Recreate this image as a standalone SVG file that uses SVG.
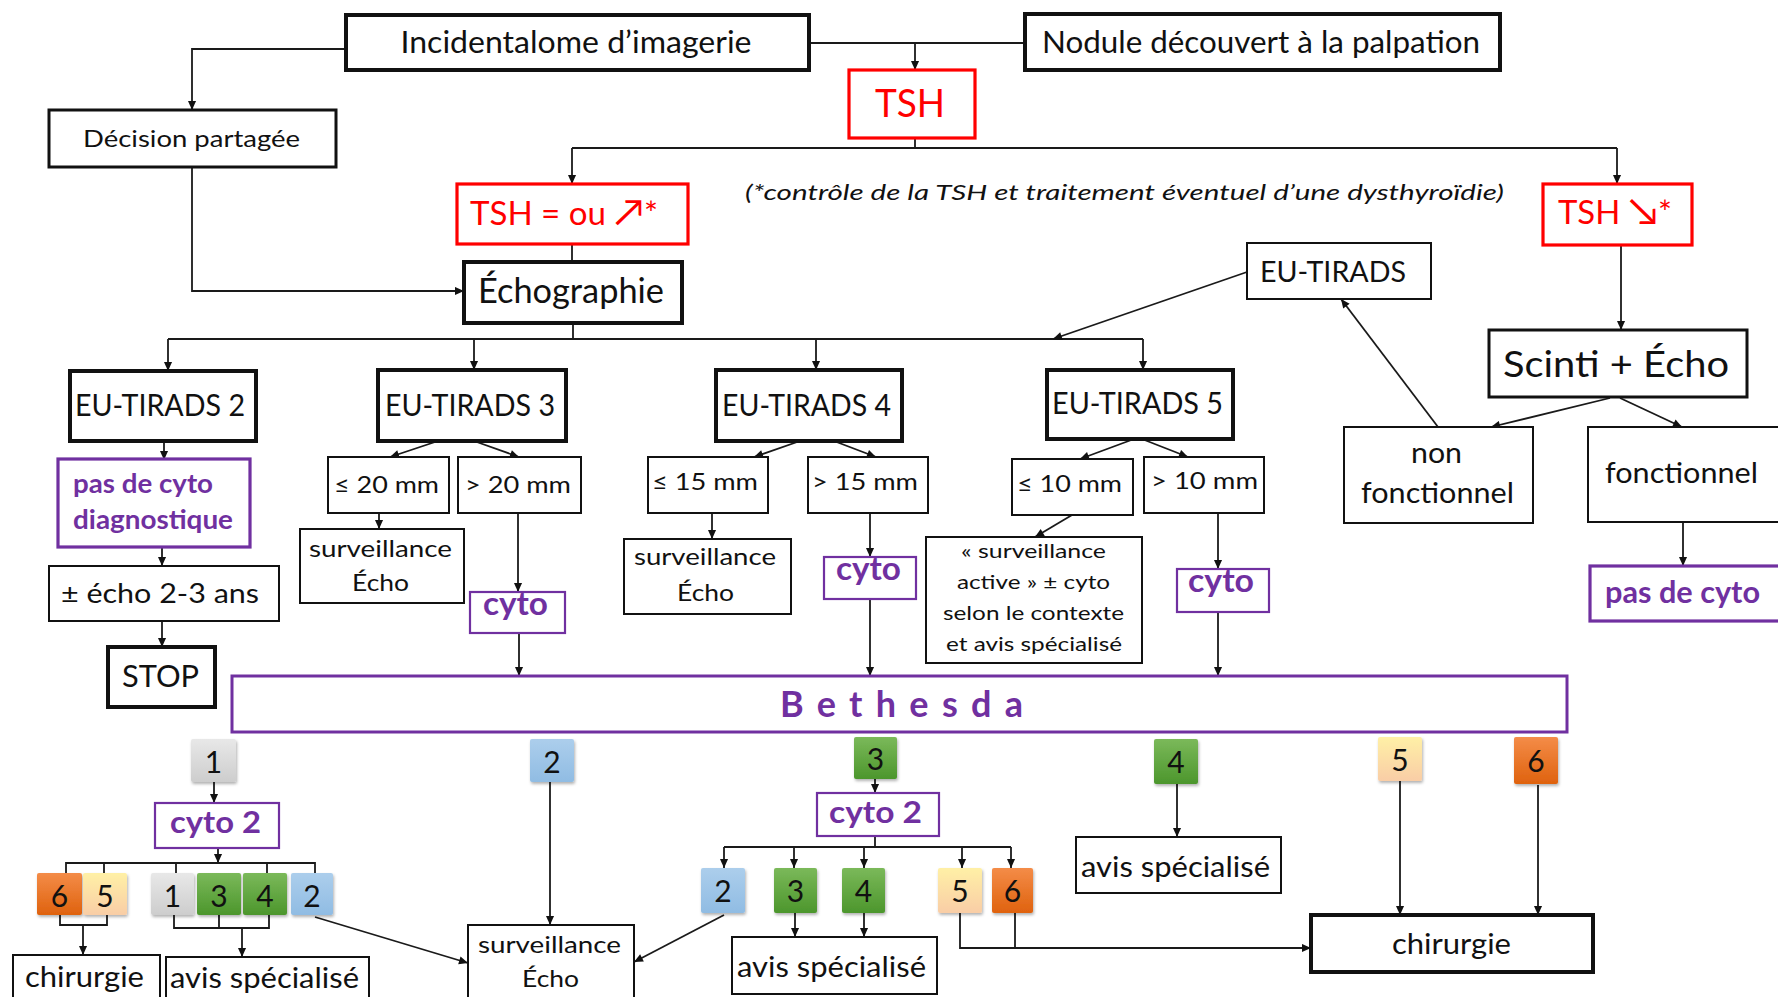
<svg xmlns="http://www.w3.org/2000/svg" width="1778" height="997" viewBox="0 0 1778 997">
<style>
text{font-family:Lato,'Liberation Sans','DejaVu Sans',sans-serif;fill:#111;text-anchor:middle}
.b{fill:#fff;stroke:#111;stroke-width:2}
.bk{fill:#fff;stroke:#111;stroke-width:4}
.r{fill:#fff;stroke:#f00;stroke-width:3.2}
.p{fill:#fff;stroke:#7030a0;stroke-width:2.2}
.pk{fill:#fff;stroke:#7030a0;stroke-width:3.2}
.rt{fill:#f00}
.pt{fill:#7030a0;font-weight:700}
.sq{stroke:none;filter:url(#sh)}
#conn path{fill:none;stroke:#1a1a1a;stroke-width:1.8}
#conn .a{marker-end:url(#ar)}
</style>
<defs>
<marker id="ar" viewBox="0 0 10 10" refX="10" refY="5" markerWidth="10" markerHeight="9" markerUnits="userSpaceOnUse" orient="auto"><path d="M0,0.5 L10,5 L0,9.5 z" fill="#111"/></marker>
<filter id="sh" x="-20%" y="-20%" width="150%" height="150%"><feDropShadow dx="1" dy="2" stdDeviation="1.4" flood-color="#000" flood-opacity="0.3"/></filter>
<linearGradient id="gG" x1="0" y1="0" x2="0" y2="1"><stop offset="0" stop-color="#e8e8e8"/><stop offset="1" stop-color="#cdcdcd"/></linearGradient>
<linearGradient id="gB" x1="0" y1="0" x2="0" y2="1"><stop offset="0" stop-color="#acceec"/><stop offset="1" stop-color="#90bce3"/></linearGradient>
<linearGradient id="gV" x1="0" y1="0" x2="0" y2="1"><stop offset="0" stop-color="#7bb95a"/><stop offset="1" stop-color="#4c962c"/></linearGradient>
<linearGradient id="gC" x1="0" y1="0" x2="0" y2="1"><stop offset="0" stop-color="#fff0a6"/><stop offset="1" stop-color="#f9cda6"/></linearGradient>
<linearGradient id="gO" x1="0" y1="0" x2="0" y2="1"><stop offset="0" stop-color="#f48c48"/><stop offset="1" stop-color="#df620e"/></linearGradient>
</defs>
<rect width="1778" height="997" fill="#fff"/>

<g id="conn">
<path d="M346,49 H192 V110" class="a"/>
<path d="M809,43 H1025"/>
<path d="M915,43 V70" class="a"/>
<path d="M915,138 V148 M572,148 H1617"/>
<path d="M572,148 V184" class="a"/>
<path d="M1617,148 V184" class="a"/>
<path d="M192,167 V291 H464" class="a"/>
<path d="M572,244 V262"/>
<path d="M1621,245 V330" class="a"/>
<path d="M573,323 V339 M168,339 H1143"/>
<path d="M168,339 V371" class="a"/>
<path d="M474,339 V370" class="a"/>
<path d="M816,339 V370" class="a"/>
<path d="M1143,339 V370" class="a"/>
<path d="M1247,272 L1053,339" class="a"/>
<path d="M1438,427 L1341,299" class="a"/>
<path d="M1610,398 L1491,427" class="a"/>
<path d="M1620,398 L1682,427" class="a"/>
<path d="M1683,522 V566" class="a"/>
<path d="M164,441 V460" class="a"/>
<path d="M162,547 V566" class="a"/>
<path d="M162,621 V647" class="a"/>
<path d="M438,441 L390,457" class="a"/>
<path d="M474,441 L519,457" class="a"/>
<path d="M379,513 V529" class="a"/>
<path d="M518,513 V592" class="a"/>
<path d="M519,633 V676" class="a"/>
<path d="M800,441 L754,457" class="a"/>
<path d="M834,441 L876,457" class="a"/>
<path d="M712,513 V539" class="a"/>
<path d="M870,513 V557" class="a"/>
<path d="M870,599 V676" class="a"/>
<path d="M1134,439 L1080,459" class="a"/>
<path d="M1142,439 L1188,457" class="a"/>
<path d="M1072,515 L1035,537" class="a"/>
<path d="M1218,513 V569" class="a"/>
<path d="M1218,612 V676" class="a"/>
<path d="M214,782 V803" class="a"/>
<path d="M218,848 V863" class="a"/>
<path d="M66,873 V863 H315 V873 M104,863 V873 M176,863 V873 M267,863 V873"/>
<path d="M60,915 V925 H107 V915"/>
<path d="M83,925 V955" class="a"/>
<path d="M174,915 V928 H269 V915 M219,915 V928"/>
<path d="M242,928 V957" class="a"/>
<path d="M315,917 L468,963" class="a"/>
<path d="M550,782 V925" class="a"/>
<path d="M875,779 V793" class="a"/>
<path d="M875,836 V847 M724,847 H1011"/>
<path d="M724,847 V868" class="a"/>
<path d="M794,847 V868" class="a"/>
<path d="M864,847 V868" class="a"/>
<path d="M962,847 V868" class="a"/>
<path d="M1011,847 V868" class="a"/>
<path d="M724,915 L634,962" class="a"/>
<path d="M795,913 V937" class="a"/>
<path d="M864,913 V937" class="a"/>
<path d="M1015,913 V948"/>
<path d="M960,913 V948 H1311" class="a"/>
<path d="M1177,784 V837" class="a"/>
<path d="M1400,781 V915" class="a"/>
<path d="M1538,785 V915" class="a"/>
</g>

<g id="incidentalome"><rect class="bk" x="346" y="15" width="463" height="55"/><text x="576" y="53" font-size="30" textLength="351" lengthAdjust="spacingAndGlyphs">Incidentalome d’imagerie</text></g>
<g id="nodule"><rect class="bk" x="1025" y="14" width="475" height="56"/><text x="1261" y="53" font-size="30" textLength="438" lengthAdjust="spacingAndGlyphs">Nodule découvert à la palpation</text></g>
<g id="tsh"><rect class="r" x="849" y="70" width="126" height="68"/><text class="rt" x="910" y="117" font-size="38" textLength="70" lengthAdjust="spacingAndGlyphs">TSH</text></g>
<g id="decision"><rect class="b" x="49" y="110" width="287" height="57" style="stroke-width:3"/><text x="191.5" y="147" font-size="24" textLength="217" lengthAdjust="spacingAndGlyphs">Décision partagée</text></g>
<g id="tsh-normal"><rect class="r" x="457" y="184" width="231" height="60"/><text class="rt" x="564" y="225" font-size="32" textLength="188" lengthAdjust="spacingAndGlyphs">TSH = ou <tspan font-size="38">↗</tspan>*</text></g>
<g id="note"><text x="1124.5" y="200" font-size="22" font-style="italic" textLength="759" lengthAdjust="spacingAndGlyphs">(*contrôle de la TSH et traitement éventuel d’une dysthyroïdie)</text></g>
<g id="tsh-low"><rect class="r" x="1543" y="184" width="149" height="61"/><text class="rt" x="1615" y="224" font-size="32" textLength="114" lengthAdjust="spacingAndGlyphs">TSH <tspan font-size="38">↘</tspan>*</text></g>
<g id="echographie"><rect class="bk" x="464" y="262" width="218" height="61"/><text x="571" y="303" font-size="34" textLength="186" lengthAdjust="spacingAndGlyphs">Échographie</text></g>
<g id="eutirads"><rect class="b" x="1247" y="243" width="184" height="56"/><text x="1333" y="282" font-size="28" textLength="146" lengthAdjust="spacingAndGlyphs">EU-TIRADS</text></g>
<g id="eu2"><rect class="bk" x="70" y="371" width="186" height="70"/><text x="160" y="416" font-size="30" textLength="170" lengthAdjust="spacingAndGlyphs">EU-TIRADS 2</text></g>
<g id="eu3"><rect class="bk" x="378" y="370" width="188" height="71"/><text x="470" y="416" font-size="30" textLength="170" lengthAdjust="spacingAndGlyphs">EU-TIRADS 3</text></g>
<g id="eu4"><rect class="bk" x="716" y="370" width="186" height="71"/><text x="806.5" y="416" font-size="30" textLength="169" lengthAdjust="spacingAndGlyphs">EU-TIRADS 4</text></g>
<g id="eu5"><rect class="bk" x="1047" y="370" width="186" height="69"/><text x="1137.5" y="414" font-size="30" textLength="171" lengthAdjust="spacingAndGlyphs">EU-TIRADS 5</text></g>
<g id="scinti"><rect class="b" x="1489" y="330" width="258" height="67" style="stroke-width:3"/><text x="1616" y="377" font-size="36" textLength="226" lengthAdjust="spacingAndGlyphs">Scinti + Écho</text></g>
<g id="nonfonc"><rect class="b" x="1344" y="427" width="189" height="96"/><text x="1436.5" y="463" font-size="29" textLength="51" lengthAdjust="spacingAndGlyphs">non</text><text x="1437.5" y="503" font-size="29" textLength="153" lengthAdjust="spacingAndGlyphs">fonctionnel</text></g>
<g id="fonc"><rect class="b" x="1588" y="427" width="205" height="95"/><text x="1681.5" y="483" font-size="29" textLength="153" lengthAdjust="spacingAndGlyphs">fonctionnel</text></g>
<g id="pasdecyto"><rect class="pk" x="1590" y="566" width="205" height="55"/><text class="pt" x="1682.5" y="603" font-size="30" textLength="155" lengthAdjust="spacingAndGlyphs">pas de cyto</text></g>
<g id="pasdecytodiag"><rect class="pk" x="58" y="459" width="192" height="88"/><text class="pt" x="143" y="493" font-size="27" textLength="140" lengthAdjust="spacingAndGlyphs">pas de cyto</text><text class="pt" x="153" y="529" font-size="27" textLength="160" lengthAdjust="spacingAndGlyphs">diagnostique</text></g>
<g id="echo23"><rect class="b" x="49" y="566" width="230" height="55"/><text x="160" y="603" font-size="27" textLength="198" lengthAdjust="spacingAndGlyphs">± écho 2-3 ans</text></g>
<g id="stop"><rect class="bk" x="108" y="647" width="107" height="60"/><text x="160.5" y="687" font-size="31" textLength="77" lengthAdjust="spacingAndGlyphs">STOP</text></g>
<g id="le20"><rect class="b" x="328" y="457" width="121" height="56"/><text x="386.5" y="493" font-size="23" textLength="105" lengthAdjust="spacingAndGlyphs">≤ 20 mm</text></g>
<g id="gt20"><rect class="b" x="458" y="457" width="123" height="56"/><text x="518" y="493" font-size="23" textLength="106" lengthAdjust="spacingAndGlyphs">&gt; 20 mm</text></g>
<g id="surv3"><rect class="b" x="300" y="529" width="164" height="74"/><text x="380.5" y="557" font-size="23" textLength="143" lengthAdjust="spacingAndGlyphs">surveillance</text><text x="380.5" y="591" font-size="23" textLength="57" lengthAdjust="spacingAndGlyphs">Écho</text></g>
<g id="cyto3"><rect class="p" x="470" y="592" width="95" height="41"/><text class="pt" x="515.5" y="615" font-size="33" textLength="65" lengthAdjust="spacingAndGlyphs">cyto</text></g>
<g id="le15"><rect class="b" x="648" y="457" width="120" height="56"/><text x="705" y="490" font-size="23" textLength="106" lengthAdjust="spacingAndGlyphs">≤ 15 mm</text></g>
<g id="gt15"><rect class="b" x="808" y="457" width="120" height="56"/><text x="865" y="490" font-size="23" textLength="106" lengthAdjust="spacingAndGlyphs">&gt; 15 mm</text></g>
<g id="surv4"><rect class="b" x="624" y="539" width="167" height="75"/><text x="705" y="565" font-size="23" textLength="142" lengthAdjust="spacingAndGlyphs">surveillance</text><text x="705.5" y="601" font-size="23" textLength="57" lengthAdjust="spacingAndGlyphs">Écho</text></g>
<g id="cyto4"><rect class="p" x="824" y="557" width="92" height="42"/><text class="pt" x="868.5" y="580" font-size="32" textLength="65" lengthAdjust="spacingAndGlyphs">cyto</text></g>
<g id="le10"><rect class="b" x="1012" y="459" width="121" height="56"/><text x="1069.5" y="492" font-size="23" textLength="105" lengthAdjust="spacingAndGlyphs">≤ 10 mm</text></g>
<g id="gt10"><rect class="b" x="1144" y="457" width="120" height="56"/><text x="1204.5" y="489" font-size="23" textLength="107" lengthAdjust="spacingAndGlyphs">&gt; 10 mm</text></g>
<g id="survactive"><rect class="b" x="926" y="537" width="216" height="126"/><text x="1033.5" y="558" font-size="20" textLength="145" lengthAdjust="spacingAndGlyphs">« surveillance</text><text x="1033.5" y="589" font-size="20" textLength="153" lengthAdjust="spacingAndGlyphs">active » ± cyto</text><text x="1033.5" y="620" font-size="20" textLength="181" lengthAdjust="spacingAndGlyphs">selon le contexte</text><text x="1034" y="651" font-size="20" textLength="176" lengthAdjust="spacingAndGlyphs">et avis spécialisé</text></g>
<g id="cyto5"><rect class="p" x="1177" y="569" width="92" height="43"/><text class="pt" x="1221" y="592" font-size="32" textLength="66" lengthAdjust="spacingAndGlyphs">cyto</text></g>
<g id="bethesda"><rect class="pk" x="232" y="676" width="1335" height="56" style="stroke-width:3"/><text class="pt" x="901.5" y="717" font-size="36" textLength="243" lengthAdjust="spacing">Bethesda</text></g>

<g id="b1"><rect class="sq" x="191" y="739" width="45" height="43" rx="2" fill="url(#gG)"/><text x="213.5" y="773" font-size="30">1</text></g>
<g id="b2"><rect class="sq" x="530" y="739" width="44" height="43" rx="2" fill="url(#gB)"/><text x="552" y="773" font-size="30">2</text></g>
<g id="b3"><rect class="sq" x="854" y="737" width="43" height="42" rx="2" fill="url(#gV)"/><text x="875.5" y="770" font-size="30">3</text></g>
<g id="b4"><rect class="sq" x="1154" y="739" width="44" height="45" rx="2" fill="url(#gV)"/><text x="1176" y="773" font-size="30">4</text></g>
<g id="b5"><rect class="sq" x="1378" y="737" width="44" height="44" rx="2" fill="url(#gC)"/><text x="1400" y="771" font-size="30">5</text></g>
<g id="b6"><rect class="sq" x="1514" y="737" width="44" height="47" rx="2" fill="url(#gO)"/><text x="1536" y="772" font-size="30">6</text></g>

<g id="cyto2a"><rect class="p" x="155" y="803" width="124" height="45"/><text class="pt" x="215.5" y="833" font-size="30" textLength="91" lengthAdjust="spacingAndGlyphs">cyto 2</text></g>
<g id="row1">
<rect class="sq" x="37" y="873" width="45" height="42" rx="2" fill="url(#gO)"/><text x="59.5" y="907" font-size="30">6</text>
<rect class="sq" x="83" y="873" width="44" height="42" rx="2" fill="url(#gC)"/><text x="105" y="907" font-size="30">5</text>
<rect class="sq" x="151" y="873" width="43" height="42" rx="2" fill="url(#gG)"/><text x="172.5" y="907" font-size="30">1</text>
<rect class="sq" x="197" y="873" width="44" height="42" rx="2" fill="url(#gV)"/><text x="219" y="907" font-size="30">3</text>
<rect class="sq" x="243" y="873" width="44" height="42" rx="2" fill="url(#gV)"/><text x="265" y="907" font-size="30">4</text>
<rect class="sq" x="291" y="873" width="42" height="42" rx="2" fill="url(#gB)"/><text x="312" y="907" font-size="30">2</text>
</g>
<g id="chir1"><rect class="b" x="13" y="955" width="147" height="48"/><text x="84.5" y="987" font-size="29" textLength="119" lengthAdjust="spacingAndGlyphs">chirurgie</text></g>
<g id="avis1"><rect class="b" x="166" y="957" width="203" height="46"/><text x="264.5" y="988" font-size="29" textLength="189" lengthAdjust="spacingAndGlyphs">avis spécialisé</text></g>
<g id="surv5"><rect class="b" x="468" y="925" width="166" height="80"/><text x="549.5" y="953" font-size="24" textLength="143" lengthAdjust="spacingAndGlyphs">surveillance</text><text x="550.5" y="987" font-size="24" textLength="57" lengthAdjust="spacingAndGlyphs">Écho</text></g>

<g id="cyto2b"><rect class="p" x="817" y="793" width="122" height="43"/><text class="pt" x="875.5" y="823" font-size="30" textLength="93" lengthAdjust="spacingAndGlyphs">cyto 2</text></g>
<g id="row2">
<rect class="sq" x="701" y="868" width="44" height="45" rx="2" fill="url(#gB)"/><text x="723" y="902" font-size="30">2</text>
<rect class="sq" x="774" y="868" width="43" height="45" rx="2" fill="url(#gV)"/><text x="795.5" y="902" font-size="30">3</text>
<rect class="sq" x="842" y="868" width="43" height="45" rx="2" fill="url(#gV)"/><text x="863.5" y="902" font-size="30">4</text>
<rect class="sq" x="938" y="868" width="44" height="45" rx="2" fill="url(#gC)"/><text x="960" y="902" font-size="30">5</text>
<rect class="sq" x="992" y="868" width="41" height="45" rx="2" fill="url(#gO)"/><text x="1012.5" y="902" font-size="30">6</text>
</g>
<g id="avis2"><rect class="b" x="732" y="937" width="205" height="57"/><text x="831.5" y="977" font-size="29" textLength="189" lengthAdjust="spacingAndGlyphs">avis spécialisé</text></g>
<g id="avis3"><rect class="b" x="1076" y="837" width="205" height="56"/><text x="1175.5" y="877" font-size="29" textLength="189" lengthAdjust="spacingAndGlyphs">avis spécialisé</text></g>
<g id="chir2"><rect class="bk" x="1311" y="915" width="282" height="57"/><text x="1451.5" y="954" font-size="29" textLength="119" lengthAdjust="spacingAndGlyphs">chirurgie</text></g>
</svg>
